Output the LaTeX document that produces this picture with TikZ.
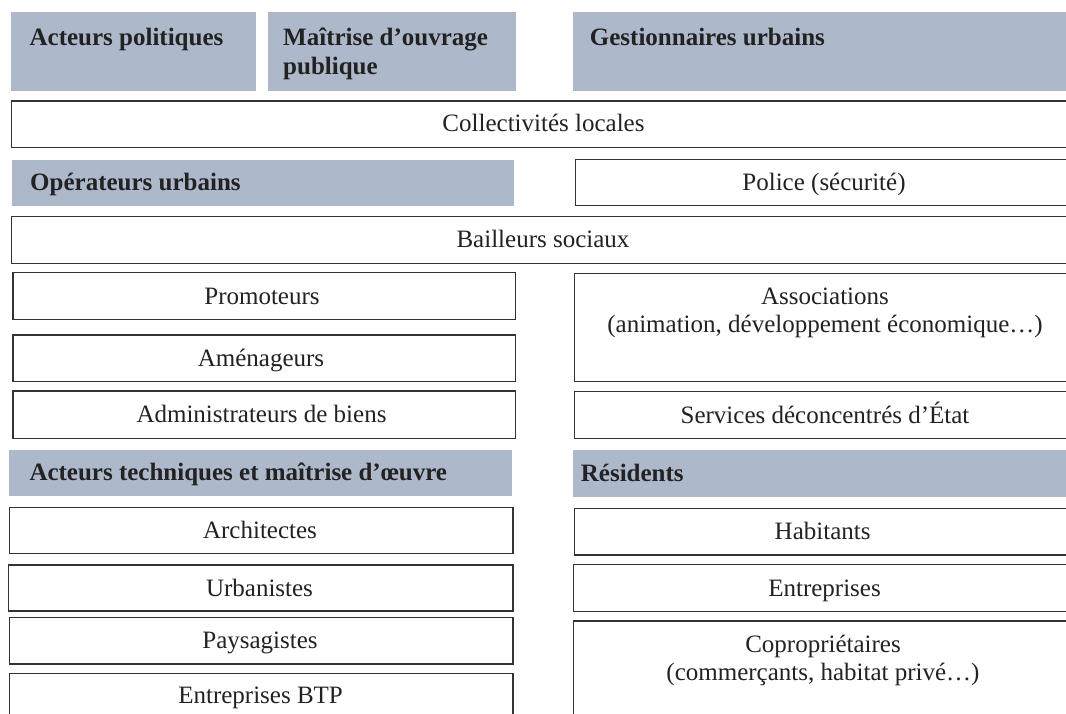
\documentclass[tikz,border=0pt]{standalone}
\usepackage{fontspec}
\setmainfont{Liberation Serif}
\usepackage{tikz}

\definecolor{headblue}{HTML}{ADB9CA}
\definecolor{inkgray}{HTML}{222222}

\tikzset{
  headbox/.style={fill=headblue, inner sep=0pt, outer sep=0pt, anchor=north west},
  cellbox/.style={draw=black!80, line width=1.3pt, fill=white, inner sep=0pt, outer sep=0pt, anchor=north west},
  headtext/.style={anchor=base west, inner sep=0pt, align=left, text=inkgray,
    font=\fontsize{25}{29}\selectfont\bfseries},
  celltext/.style={anchor=base, inner sep=0pt, align=center, text=inkgray,
    font=\fontsize{25}{28}\selectfont},
}

\begin{document}
\begin{tikzpicture}[x=1pt, y=-1pt]
    \useasboundingbox (0,0) rectangle (1066,713);
    \clip (0,0) rectangle (1066,713);

    % bandeaux de titre
    \node[headbox, minimum width=245pt, minimum height=78.4pt] (pol) at (11.4,12.3) {};
    \node[headbox, minimum width=247.5pt, minimum height=78.4pt] (moa) at (268,12.3) {};
    \node[headbox, minimum width=510pt, minimum height=78.4pt] (gest) at (572.7,12.3) {};
    \node[headbox, minimum width=501.5pt, minimum height=46pt] (oper) at (12.3,160) {};
    \node[headbox, minimum width=503pt, minimum height=46.4pt] (tech) at (9.3,450) {};
    \node[headbox, minimum width=510pt, minimum height=46.7pt] (resid) at (572.7,450) {};

    % (base = derniere ligne pour les textes sur deux lignes)
    \node[headtext] (polT) at ([xshift=18pt, yshift=-32.7pt]pol.north west) {Acteurs politiques};
    \node[headtext] (moaT) at ([xshift=15pt, yshift=-61.7pt]moa.north west) {Maîtrise d’ouvrage\\publique};
    \node[headtext] (gestT) at ([xshift=17pt, yshift=-32.7pt]gest.north west) {Gestionnaires urbains};
    \node[headtext] (operT) at ([xshift=17.7pt, yshift=-30.7pt]oper.north west) {Opérateurs urbains};
    \node[headtext] (techT) at ([xshift=20pt, yshift=-30pt]tech.north west) {Acteurs techniques et maîtrise d’œuvre};
    \node[headtext] (residT) at ([xshift=8pt, yshift=-31.7pt]resid.north west) {Résidents};

    % cases
    \node[cellbox, minimum width=1070pt, minimum height=46.7pt] (coll) at (11.5,101) {};
    \node[cellbox, minimum width=510pt, minimum height=46.4pt] (police) at (575.5,159.3) {};
    \node[cellbox, minimum width=1070pt, minimum height=46.6pt] (bail) at (11.7,216.7) {};
    \node[cellbox, minimum width=502.5pt, minimum height=46.6pt] (promo) at (13,272.7) {};
    \node[cellbox, minimum width=502.5pt, minimum height=46.7pt] (amen) at (13,335) {};
    \node[cellbox, minimum width=502.5pt, minimum height=47.3pt] (admin) at (13,391) {};
    \node[cellbox, minimum width=510pt, minimum height=108.4pt] (assoc) at (574.4,273.3) {};
    \node[cellbox, minimum width=510pt, minimum height=46.6pt] (serv) at (574.4,391.7) {};
    \node[cellbox, minimum width=503.4pt, minimum height=46pt] (archi) at (9.6,507.3) {};
    \node[cellbox, minimum width=504.7pt, minimum height=46pt] (urba) at (8.3,565) {};
    \node[cellbox, minimum width=503.4pt, minimum height=46.3pt] (pays) at (9.6,617.7) {};
    \node[cellbox, minimum width=503.4pt, minimum height=60pt] (btp) at (9.6,673.3) {};
    \node[cellbox, minimum width=510pt, minimum height=46.7pt] (habit) at (574.4,508.3) {};
    \node[cellbox, minimum width=510pt, minimum height=47.4pt] (entr) at (573.4,564.3) {};
    \node[cellbox, minimum width=510pt, minimum height=110pt] (copro) at (573.4,621) {};

    \node[celltext] (collT) at (543.5,131.7) {Collectivités locales};
    \node[celltext] (policeT) at (824,190.5) {Police (sécurité)};
    \node[celltext] (bailT) at (543,247.3) {Bailleurs sociaux};
    \node[celltext] (promoT) at (262,304) {Promoteurs};
    \node[celltext] (amenT) at (261,366.5) {Aménageurs};
    \node[celltext] (adminT) at (261.5,422.5) {Administrateurs de biens};
    \node[celltext] (assocT) at (825,332) {Associations\\(animation, développement économique…)};
    \node[celltext] (servT) at (825,423) {Services déconcentrés d’État};
    \node[celltext] (archiT) at (260,538.5) {Architectes};
    \node[celltext] (urbaT) at (259.5,596) {Urbanistes};
    \node[celltext] (paysT) at (260,648.5) {Paysagistes};
    \node[celltext] (btpT) at (260.6,703.5) {Entreprises BTP};
    \node[celltext] (habitT) at (822.6,539.5) {Habitants};
    \node[celltext] (entrT) at (824.5,596) {Entreprises};
    \node[celltext] (coproT) at (823,680) {Copropriétaires\\(commerçants, habitat privé…)};
\end{tikzpicture}
\end{document}
